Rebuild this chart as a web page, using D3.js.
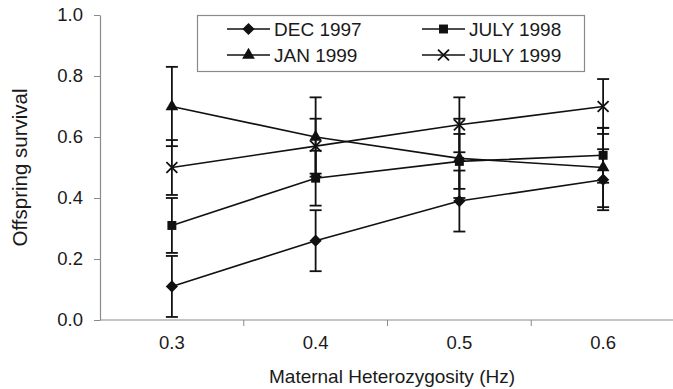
<!DOCTYPE html>
<html>
<head>
<meta charset="utf-8">
<script src="https://cdn.jsdelivr.net/npm/d3@7"></script>
<style>
  html, body { margin: 0; padding: 0; background: #fff; }
  svg { display: block; font-family: "Liberation Sans", Arial, sans-serif; }
</style>
</head>
<body>
<div id="chart"></div>
<script>
// categories (maternal heterozygosity)
var categories = ["0.3", "0.4", "0.5", "0.6"];
var yTicks     = [0, 0.2, 0.4, 0.6, 0.8, 1.0];

// series values and error bar half-widths
var dec1997  = [0.11, 0.26, 0.39, 0.46];
var dec1997E = [0.10, 0.10, 0.10, 0.10];
var jul1998  = [0.31, 0.465, 0.52, 0.54];
var jul1998E = [0.09, 0.09, 0.09, 0.09];
var jan1999  = [0.70, 0.60, 0.53, 0.50];
var jan1999E = [0.13, 0.13, 0.13, 0.13];
var jul1999  = [0.50, 0.57, 0.64, 0.70];
var jul1999E = [0.09, 0.09, 0.09, 0.09];

var seriesNames = ["DEC 1997", "JULY 1998", "JAN 1999", "JULY 1999"];

(function () {
    var W = 673, H = 389;
    var margin = { top: 15, right: -2, bottom: 69, left: 100 };
    var iW = W - margin.left - margin.right;
    var iH = H - margin.top - margin.bottom;
    var FS = 18.5;

    var series = [
        { name: seriesNames[0], vals: dec1997, err: dec1997E, sym: d3.symbolDiamond2, size: 95,  type: "fill" },
        { name: seriesNames[1], vals: jul1998, err: jul1998E, sym: d3.symbolSquare,   size: 80,  type: "fill" },
        { name: seriesNames[2], vals: jan1999, err: jan1999E, sym: d3.symbolTriangle, size: 70,  type: "fill" },
        { name: seriesNames[3], vals: jul1999, err: jul1999E, sym: d3.symbolTimes,    size: 80,  type: "stroke" }
    ];

    var svg = d3.select("#chart").append("svg")
        .attr("width", W).attr("height", H);
    var g = svg.append("g")
        .attr("transform", "translate(" + margin.left + "," + margin.top + ")");

    var x = d3.scaleBand().domain(categories).range([0, iW]);
    var y = d3.scaleLinear().domain([0, 1]).range([iH, 0]);
    var cx = function (i) { return x(categories[i]) + x.bandwidth() / 2; };

    // y axis
    var yAx = g.append("g")
        .call(d3.axisLeft(y).tickValues(yTicks).tickFormat(d3.format(".1f"))
            .tickSize(6).tickSizeOuter(0).tickPadding(11));
    // x axis with ticks at band edges
    var xAx = g.append("g").attr("transform", "translate(0," + iH + ")");
    xAx.append("line").attr("x1", 0).attr("x2", iW)
        .attr("stroke", "#8a8a8a").attr("stroke-width", 1.2);
    xAx.selectAll(".xt").data(categories.slice(1)).enter().append("line")
        .attr("x1", function (d) { return x(d); }).attr("x2", function (d) { return x(d); })
        .attr("y1", 0).attr("y2", 6)
        .attr("stroke", "#8a8a8a");
    xAx.selectAll(".xl").data(categories).enter().append("text")
        .attr("x", function (d, i) { return cx(i); })
        .attr("y", 29)
        .attr("text-anchor", "middle")
        .attr("font-size", FS).attr("fill", "#1a1a1a")
        .text(function (d) { return d; });

    yAx.select(".domain").attr("stroke", "#8a8a8a").attr("stroke-width", 1.2);
    yAx.selectAll(".tick line").attr("stroke", "#8a8a8a");
    yAx.selectAll(".tick text").attr("font-size", FS).attr("fill", "#1a1a1a")
        .attr("font-family", "Liberation Sans, Arial, sans-serif");

    // titles
    svg.append("text")
        .attr("x", margin.left + 292).attr("y", 383)
        .attr("text-anchor", "middle").attr("font-size", 19).attr("fill", "#1a1a1a")
        .text("Maternal Heterozygosity (Hz)");
    svg.append("text")
        .attr("transform", "translate(27," + (margin.top + iH / 2) + ") rotate(-90)")
        .attr("text-anchor", "middle").attr("font-size", 20.5).attr("fill", "#1a1a1a")
        .text("Offspring survival");

    var ink = "#111";

    // error bars
    series.forEach(function (s) {
        s.vals.forEach(function (v, i) {
            var lo = y(v - s.err[i]), hi = y(v + s.err[i]), xc = cx(i);
            g.append("line").attr("x1", xc).attr("x2", xc).attr("y1", lo).attr("y2", hi)
                .attr("stroke", ink).attr("stroke-width", 1.8);
            [lo, hi].forEach(function (yy) {
                g.append("line").attr("x1", xc - 6).attr("x2", xc + 6)
                    .attr("y1", yy).attr("y2", yy)
                    .attr("stroke", ink).attr("stroke-width", 1.8);
            });
        });
    });

    // lines
    var line = d3.line()
        .x(function (d, i) { return cx(i); })
        .y(function (d) { return y(d); });
    series.forEach(function (s) {
        g.append("path").datum(s.vals)
            .attr("d", line).attr("fill", "none")
            .attr("stroke", ink).attr("stroke-width", 1.6);
    });

    // markers
    function marker(sel, s) {
        var p = sel.append("path").attr("d", d3.symbol().type(s.sym).size(s.size)());
        if (s.type === "fill") p.attr("fill", ink);
        else p.attr("fill", "none").attr("stroke", ink).attr("stroke-width", 1.8);
        return p;
    }
    series.forEach(function (s) {
        s.vals.forEach(function (v, i) {
            marker(g, s).attr("transform", "translate(" + cx(i) + "," + y(v) + ")");
        });
    });

    // legend
    var lg = svg.append("g");
    lg.append("rect")
        .attr("x", 197.5).attr("y", 15.5).attr("width", 387).attr("height", 56)
        .attr("fill", "#fff").attr("stroke", "#8a8a8a").attr("stroke-width", 1.2);
    var cols = [227, 422], rows = [29, 55];
    series.forEach(function (s, i) {
        var lx = cols[i % 2], ly = rows[Math.floor(i / 2)];
        var e = lg.append("g").attr("transform", "translate(" + lx + "," + ly + ")");
        e.append("line").attr("x1", 0).attr("x2", 43).attr("y1", 0).attr("y2", 0)
            .attr("stroke", ink).attr("stroke-width", 1.6);
        marker(e, s).attr("transform", "translate(21.5,0)");
        e.append("text").attr("x", 47).attr("y", 6.5)
            .attr("font-size", 19).attr("fill", "#1a1a1a")
            .text(s.name);
    });
}());
</script>
</body>
</html>
